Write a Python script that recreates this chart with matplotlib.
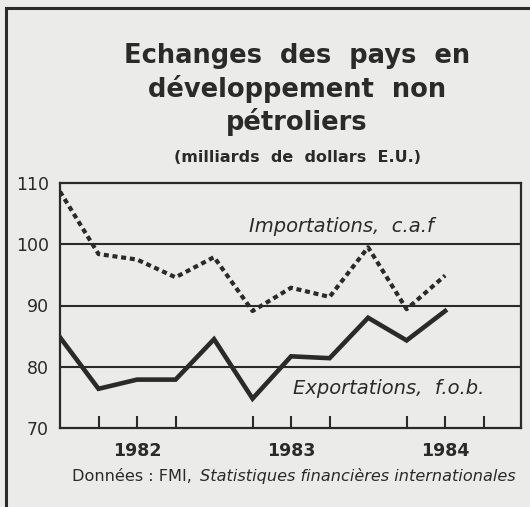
import matplotlib
matplotlib.use("Agg")
import matplotlib.pyplot as plt
from matplotlib.lines import Line2D

plt.rcParams['font.family'] = ['DejaVu Sans']

# quarterly points, 1981 Q4 .. 1984 Q2 (index along x)
quarters = list(range(11))
exportations = [84.8, 76.4, 77.9, 77.9, 84.5, 74.8, 81.7, 81.4, 88.0, 84.3, 89.1]
importations = [108.6, 98.4, 97.5, 94.6, 97.9, 89.1, 92.9, 91.4, 99.5, 89.4, 94.9]

tick_pos = [1, 2, 3, 5, 6, 7, 9, 10, 11]
tick_labels = ['', '1982', '', '', '1983', '', '', '1984', '']
y_ticks = [70, 80, 90, 100, 110]

INK = '#2a2a2a'
PAPER = '#ebebe9'

fig = plt.figure(figsize=(5.3, 5.07), dpi=100)
fig.patch.set_facecolor(PAPER)

ax = fig.add_axes([60/530, 1 - 428/507, 461/530, 245/507])
ax.set_facecolor(PAPER)

for yy in [80, 90, 100]:
    ax.axhline(yy, color=INK, lw=1.5, zorder=1)

ax.plot(quarters, exportations, color=INK, lw=3.3, solid_joinstyle='miter', zorder=3)
ax.plot(quarters, importations, color=INK, lw=3.0, linestyle=(0, (1.2, 0.9)),
        dash_capstyle='butt', zorder=3)

ax.set_xlim(0, 11.97)
ax.set_ylim(70, 110)
ax.set_yticks(y_ticks)
ax.set_yticklabels([str(v) for v in y_ticks], fontsize=12.5, color=INK)
ax.tick_params(axis='y', length=0, pad=8)
ax.set_xticks(tick_pos)
ax.set_xticklabels(tick_labels, fontsize=12.5, fontweight='bold', color=INK)
ax.tick_params(axis='x', direction='in', length=9, width=1.5, color=INK, pad=10)
for sp in ax.spines.values():
    sp.set_color(INK)
    sp.set_linewidth(1.6)

ax.text(4.92, 102.0, 'Importations,  c.a.f', fontsize=14, style='italic',
        color=INK, va='baseline', ha='left')
ax.text(6.05, 75.55, 'Exportations,  f.o.b.', fontsize=14, style='italic',
        color=INK, va='baseline', ha='left')

# title block (baseline of the last line)
fig.text(297/530, 1 - 130/507, 'Echanges  des  pays  en\ndéveloppement  non\npétroliers',
         ha='center', va='baseline', fontsize=18.5, fontweight='bold', color=INK,
         linespacing=1.24, multialignment='center')
fig.text(297/530, 1 - 162/507, '(milliards  de  dollars  E.U.)', ha='center', va='baseline',
         fontsize=11.5, fontweight='bold', color=INK)

# source line
t1 = fig.text(72/530, 1 - 481/507, 'Données : FMI,', ha='left', va='baseline',
              fontsize=11.6, color=INK)
fig.canvas.draw()
bb = t1.get_window_extent()
fig.text((bb.x1 + 8) / fig.bbox.width, 1 - 481/507, 'Statistiques financières internationales',
         ha='left', va='baseline', fontsize=11.6, style='italic', color=INK)

# outer frame (left and top edges only visible)
fig.add_artist(Line2D([6/530, 6/530], [0, 1 - 8/507], color=INK, lw=2.2,
                      transform=fig.transFigure, solid_capstyle='projecting'))
fig.add_artist(Line2D([6/530, 1], [1 - 8/507, 1 - 8/507], color=INK, lw=2.2,
                      transform=fig.transFigure, solid_capstyle='projecting'))

fig.savefig('out.png', dpi=100, facecolor=PAPER)
